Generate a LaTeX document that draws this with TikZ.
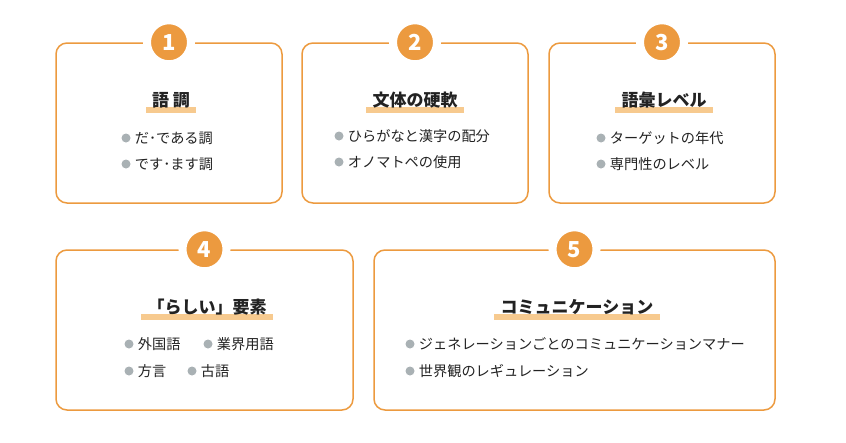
\documentclass[tikz,border=0pt]{standalone}
\usepackage{fontspec}
\setmainfont{Noto Sans CJK JP}
\usepackage{xcolor}
\usetikzlibrary{positioning,backgrounds}
\definecolor{boxorange}{HTML}{EC9A3F}
\definecolor{barorange}{HTML}{F7CA8F}
\definecolor{dotgray}{HTML}{A9B1B4}
\definecolor{inkblack}{HTML}{222222}
\tikzset{
  panel/.style={draw=boxorange, line width=1.5pt, rounded corners=11pt, minimum height=160pt, inner sep=0pt},
  badge/.style={circle, fill=boxorange, draw=white, line width=8pt, minimum size=44pt, inner sep=0pt, text=white, font=\fontsize{22}{22}\selectfont\bfseries},
  heading/.style={inner sep=0pt, text=inkblack, font=\fontsize{17}{17}\selectfont\bfseries},
  dot/.style={circle, fill=dotgray, minimum size=9pt, inner sep=0pt},
  item/.style={inner sep=0pt, text=inkblack, font=\fontsize{14.2}{14.2}\selectfont},
}
\newcommand{\headbar}[1]{\fill[barorange] ([shift={(-6pt,-7pt)}]#1.west) rectangle ([shift={(6pt,-13pt)}]#1.east);}

\begin{document}
\begin{tikzpicture}[x=1pt, y=-1pt]
  \useasboundingbox (0,0) rectangle (846,442);
  % panels
  \node[panel, minimum width=226pt] (p1) at (169,123) {};
  \node[panel, minimum width=226pt] (p2) at (415,123) {};
  \node[panel, minimum width=226pt] (p3) at (662,123) {};
  \node[panel, minimum width=297pt] (p4) at (204.5,330) {};
  \node[panel, minimum width=401pt] (p5) at (574.5,330) {};
  % numbers
  \node[badge] (b1) at (p1.north) {1};
  \node[badge] (b2) at (p2.north) {2};
  \node[badge] (b3) at (p3.north) {3};
  \node[badge] (b4) at (p4.north) {4};
  \node[badge] (b5) at (p5.north) {5};
  % headings
  \node[heading] (t1) at (171,100) {語 調};
  \node[heading] (t2) at (415,100) {文体の硬軟};
  \node[heading] (t3) at (664,100) {語彙レベル};
  \node[heading] (t4) at (207,307) {「らしい」要素};
  \node[heading] (t5) at (577,307) {コミュニケーション};
  \begin{scope}[on background layer]
    \headbar{t1} \headbar{t2} \headbar{t3} \headbar{t4} \headbar{t5}
  \end{scope}
  % items
  \node[dot] (d11) at (126,138) {};
  \node[item, right=4pt of d11] (i11) {だ･である調};
  \node[dot] (d12) at (126,164) {};
  \node[item, right=4pt of d12] (i12) {です･ます調};
  \node[dot] (d21) at (339,136) {};
  \node[item, right=4pt of d21] (i21) {ひらがなと漢字の配分};
  \node[dot] (d22) at (339,162) {};
  \node[item, right=4pt of d22] (i22) {オノマトペの使用};
  \node[dot] (d31) at (601,138) {};
  \node[item, right=4pt of d31] (i31) {ターゲットの年代};
  \node[dot] (d32) at (601,164) {};
  \node[item, right=4pt of d32] (i32) {専門性のレベル};
  \node[dot] (d41) at (129,344) {};
  \node[item, right=4pt of d41] (i41) {外国語};
  \node[dot] (d42) at (208,344) {};
  \node[item, right=4pt of d42] (i42) {業界用語};
  \node[dot] (d43) at (129,371) {};
  \node[item, right=4pt of d43] (i43) {方言};
  \node[dot] (d44) at (192,371) {};
  \node[item, right=4pt of d44] (i44) {古語};
  \node[dot] (d51) at (410,344) {};
  \node[item, right=4pt of d51] (i51) {ジェネレーションごとのコミュニケーションマナー};
  \node[dot] (d52) at (410,371) {};
  \node[item, right=4pt of d52] (i52) {世界観のレギュレーション};
\end{tikzpicture}
\end{document}
